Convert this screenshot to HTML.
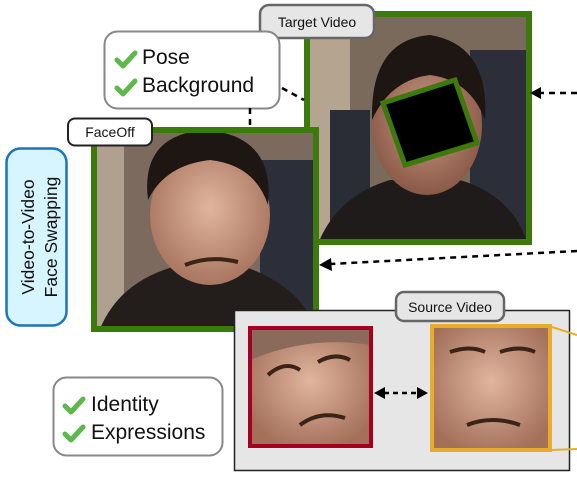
<!DOCTYPE html>
<html><head><style>
body{margin:0;background:#fff;}
svg{display:block;font-family:"Liberation Sans",sans-serif;}
</style></head><body>
<svg width="577" height="480" viewBox="0 0 577 480" xmlns="http://www.w3.org/2000/svg">
<defs>
<radialGradient id="skin" cx="50%" cy="45%" r="55%"><stop offset="0" stop-color="#c99a84"/><stop offset="1" stop-color="#8a5a48"/></radialGradient>
<radialGradient id="skin2" cx="50%" cy="45%" r="60%"><stop offset="0" stop-color="#e0b59e"/><stop offset="1" stop-color="#a4705a"/></radialGradient>
<path id="chk" d="M0,8 L6,14 L18,1" stroke="#5cb84a" stroke-width="5" fill="none" stroke-linecap="round" stroke-linejoin="round"/>
</defs>
<!-- Target video -->
<rect x="310" y="17" width="216" height="222" fill="#7a6a5c"/>
<rect x="310" y="17" width="40" height="222" fill="#b5a590"/>
<rect x="470" y="50" width="56" height="189" fill="#2c2f3a"/>
<rect x="330" y="110" width="40" height="129" fill="#2a2d36"/>
<path d="M320,239 Q340,195 390,180 L460,180 Q510,195 526,239 Z" fill="#1f1b1b"/>
<ellipse cx="427" cy="125" rx="55" ry="70" fill="url(#skin)"/>
<path d="M372,120 Q370,40 430,35 Q490,45 485,120 Q470,80 430,75 Q390,80 372,120Z" fill="#1e1612"/>
<rect x="307" y="14" width="222" height="228" fill="none" stroke="#3b7a0b" stroke-width="6"/>
<polygon points="383,103 455,80 477,143 405,165" fill="#000" stroke="#3b7a0b" stroke-width="5"/>
<!-- Target label -->
<rect x="260" y="5" width="114" height="33" rx="9" fill="#e6e6e6" stroke="#666" stroke-width="2.5"/>
<text x="317" y="27" font-size="14" text-anchor="middle" fill="#111">Target Video</text>
<!-- Pose box -->
<rect x="104.5" y="31.5" width="175" height="77" rx="13" fill="#fff" stroke="#888" stroke-width="2"/>
<use href="#chk" x="117" y="52"/>
<use href="#chk" x="117" y="80"/>
<text x="142" y="64" font-size="21" fill="#111">Pose</text>
<text x="142" y="92" font-size="21" fill="#111">Background</text>
<line x1="282" y1="88" x2="304" y2="100" stroke="#000" stroke-width="2.5" stroke-dasharray="6,5"/>
<line x1="250" y1="108" x2="250" y2="127" stroke="#000" stroke-width="2.5" stroke-dasharray="6,5"/>
<!-- FaceOff frame -->
<rect x="94" y="130" width="222" height="199" fill="#7d6a5e"/>
<rect x="94" y="130" width="30" height="199" fill="#b0a090"/>
<rect x="260" y="160" width="56" height="169" fill="#2c2f3a"/>
<path d="M100,329 Q120,280 180,265 L240,265 Q300,285 316,329 Z" fill="#231d1c"/>
<ellipse cx="210" cy="215" rx="60" ry="70" fill="url(#skin2)"/>
<path d="M148,200 Q140,135 205,130 Q275,135 268,205 Q255,165 210,160 Q165,165 148,200Z" fill="#1e1612"/>
<path d="M185,265 Q210,255 238,262" stroke="#3a2418" stroke-width="4" fill="none"/>
<rect x="94" y="130" width="222" height="199" fill="none" stroke="#3b7a0b" stroke-width="6"/>
<rect x="68" y="118.5" width="84" height="27" rx="7" fill="#fff" stroke="#222" stroke-width="2"/>
<text x="110" y="137" font-size="14" text-anchor="middle" fill="#111">FaceOff</text>
<!-- Video-to-Video -->
<rect x="6.5" y="148.5" width="60" height="177" rx="14" fill="#d6f5ff" stroke="#1b75bc" stroke-width="2.5"/>
<text transform="translate(34,237) rotate(-90)" font-size="17.5" text-anchor="middle" fill="#111">Video-to-Video</text>
<text transform="translate(57,237) rotate(-90)" font-size="17.5" text-anchor="middle" fill="#111">Face Swapping</text>
<!-- arrows right -->
<line x1="577" y1="93" x2="540" y2="93" stroke="#000" stroke-width="2.5" stroke-dasharray="6,5"/>
<path d="M530,93 L541,87 L541,99 Z" fill="#000"/>
<line x1="577" y1="251" x2="330" y2="264" stroke="#000" stroke-width="2.5" stroke-dasharray="6,5"/>
<path d="M319,265 L331,258 L332,271 Z" fill="#000"/>
<!-- Source box -->
<rect x="234.5" y="310.5" width="335" height="160" fill="#e6e6e6" stroke="#222" stroke-width="1.5"/>
<rect x="396" y="292" width="108" height="29" rx="8" fill="#e6e6e6" stroke="#666" stroke-width="2.5"/>
<text x="450" y="312" font-size="14" text-anchor="middle" fill="#111">Source Video</text>
<!-- red face -->
<rect x="250" y="328" width="121" height="118" fill="url(#skin2)"/>
<path d="M250,328 L371,328 L371,345 Q310,335 250,360Z" fill="#8a6a5a"/>
<path d="M268,375 Q285,360 300,370 M318,362 Q335,352 350,360" stroke="#3a2418" stroke-width="4" fill="none"/>
<path d="M300,425 Q320,410 345,418" stroke="#3a2418" stroke-width="4" fill="none"/>
<rect x="250" y="328" width="121" height="118" fill="none" stroke="#a50021" stroke-width="4"/>
<!-- orange face -->
<rect x="432" y="326" width="118" height="124" fill="url(#skin2)"/>
<path d="M450,352 Q470,345 485,352 M500,352 Q520,345 535,352" stroke="#3a2418" stroke-width="4" fill="none"/>
<path d="M467,425 Q492,415 520,425" stroke="#3a2418" stroke-width="4" fill="none"/>
<rect x="432" y="326" width="118" height="124" fill="none" stroke="#e8ad2c" stroke-width="4"/>
<line x1="552" y1="327" x2="577" y2="335" stroke="#e8ad2c" stroke-width="2"/>
<line x1="552" y1="450" x2="577" y2="449" stroke="#e8ad2c" stroke-width="2"/>
<!-- double arrow -->
<line x1="384" y1="393" x2="418" y2="393" stroke="#000" stroke-width="2.5" stroke-dasharray="5,4"/>
<path d="M374,393 L385,387 L385,399 Z" fill="#000"/>
<path d="M428,393 L417,387 L417,399 Z" fill="#000"/>
<!-- Identity box -->
<rect x="53.5" y="377.5" width="169" height="78" rx="13" fill="#fff" stroke="#888" stroke-width="2"/>
<use href="#chk" x="65" y="398"/>
<use href="#chk" x="65" y="426"/>
<text x="91" y="411" font-size="21" fill="#111">Identity</text>
<text x="91" y="439" font-size="21" fill="#111">Expressions</text>
</svg>
</body></html>
